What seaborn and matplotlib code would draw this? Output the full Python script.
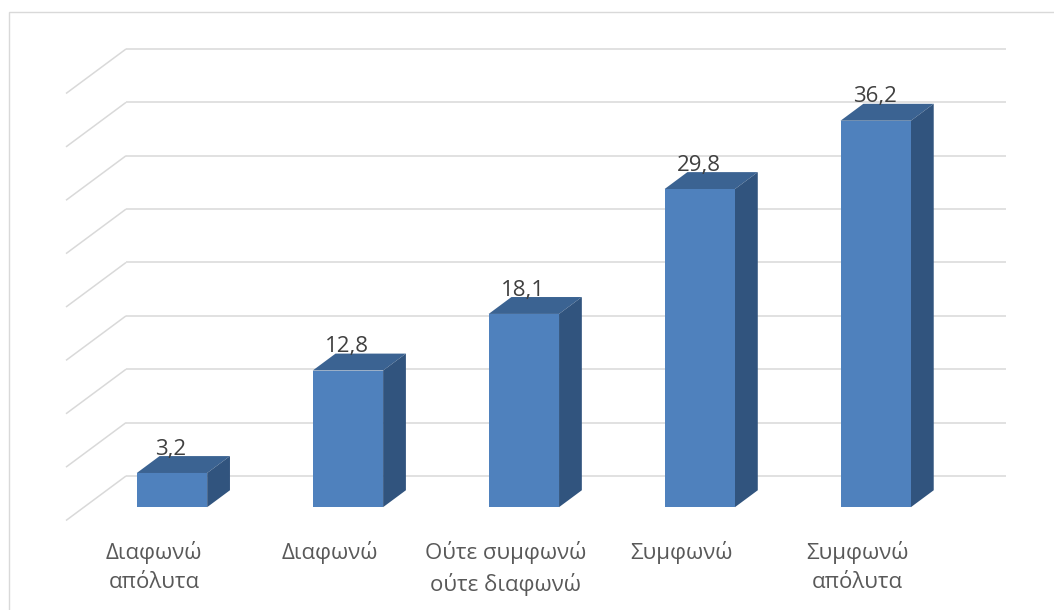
import matplotlib
matplotlib.use("Agg")
import matplotlib.pyplot as plt
from matplotlib.patches import Polygon, Rectangle
import pandas as pd
import seaborn as sns

# --- data -------------------------------------------------------------
categories = ["Διαφωνώ\nαπόλυτα", "Διαφωνώ", "Ούτε συμφωνώ\nούτε διαφωνώ",
              "Συμφωνώ", "Συμφωνώ\nαπόλυτα"]
values = [3.2, 12.8, 18.1, 29.8, 36.2]
value_labels = ["3,2", "12,8", "18,1", "29,8", "36,2"]
grid_values = [0, 5, 10, 15, 20, 25, 30, 35, 40]

# --- style ------------------------------------------------------------
sns.set_theme(style="white")
plt.rcParams["font.family"] = ["Open Sans", "DejaVu Sans"]

FRONT = "#4F81BD"
TOP = "#3B6392"
SIDE = "#31547E"
GRID = "#D9D9D9"

W, H = 1054, 610
fig = plt.figure(figsize=(W / 100, H / 100), dpi=100)
ax = fig.add_axes([0, 0, 1, 1])

df = pd.DataFrame({"category": categories, "value": values})
sns.barplot(data=df, x="category", y="value", width=0.4, color=FRONT,
            saturation=1, ax=ax, zorder=3, linewidth=0)

# pixel-aligned data window: back wall spans categories -0.5..4.5, values 0..40
XMIN, XMAX = -1.2162, 4.7745
YMIN, YMAX = -12.553, 44.59
ax.set_xlim(XMIN, XMAX)
ax.set_ylim(YMIN, YMAX)
ax.axis("off")

px_x = W / (XMAX - XMIN)
px_y = H / (YMAX - YMIN)

# oblique depth of the side wall (pixels -> data units)
WX = 60 / px_x
WY = 44.5 / px_y
D_FRONT, D_BACK = 0.70, 0.32
fx, fy = D_FRONT * WX, D_FRONT * WY
bx, by = D_BACK * WX, D_BACK * WY
ddx, ddy = fx - bx, fy - by

# gridlines on back wall and left wall
for g in grid_values:
    ax.plot([-0.5, 4.5], [g, g], color=GRID, lw=1.1, zorder=1,
            solid_capstyle="butt")
    ax.plot([-0.5 - WX, -0.5], [g - WY, g], color=GRID, lw=1.1, zorder=1,
            solid_capstyle="butt")

# move bar fronts forward and add the top and side faces
bars = list(ax.patches)
for bar, v, lab in zip(bars, values, value_labels):
    x0 = bar.get_x() - fx
    bar.set_x(x0)
    bar.set_y(-fy)
    w = bar.get_width()
    x1 = x0 + w
    top = Polygon([(x0, v - fy), (x1, v - fy), (x1 + ddx, v - by),
                   (x0 + ddx, v - by)], closed=True, facecolor=TOP,
                  edgecolor="none", zorder=2)
    side = Polygon([(x1, -fy), (x1, v - fy), (x1 + ddx, v - by),
                    (x1 + ddx, -by)], closed=True, facecolor=SIDE,
                   edgecolor="none", zorder=2)
    ax.add_patch(top)
    ax.add_patch(side)
    ax.annotate(lab, xy=(x0 + w / 2, v - by), xytext=(-1, 1.5),
                textcoords="offset pixels", ha="center", va="baseline",
                fontsize=16, color="#404040", zorder=5)

# category labels along the front edge of the floor
for i, cat in enumerate(categories):
    ax.annotate(cat, xy=(i - WX, -WY), xytext=(0, -21),
                textcoords="offset pixels", ha="center", va="top",
                fontsize=16, color="#595959", linespacing=1.45,
                multialignment="center")

# chart frame
fig.patches.append(Rectangle((8.5 / W, -0.1), 1.2, (H - 12) / H + 0.1,
                             transform=fig.transFigure, fill=False,
                             edgecolor=GRID, lw=1.0))

fig.savefig("out.png", dpi=100, facecolor="white")
